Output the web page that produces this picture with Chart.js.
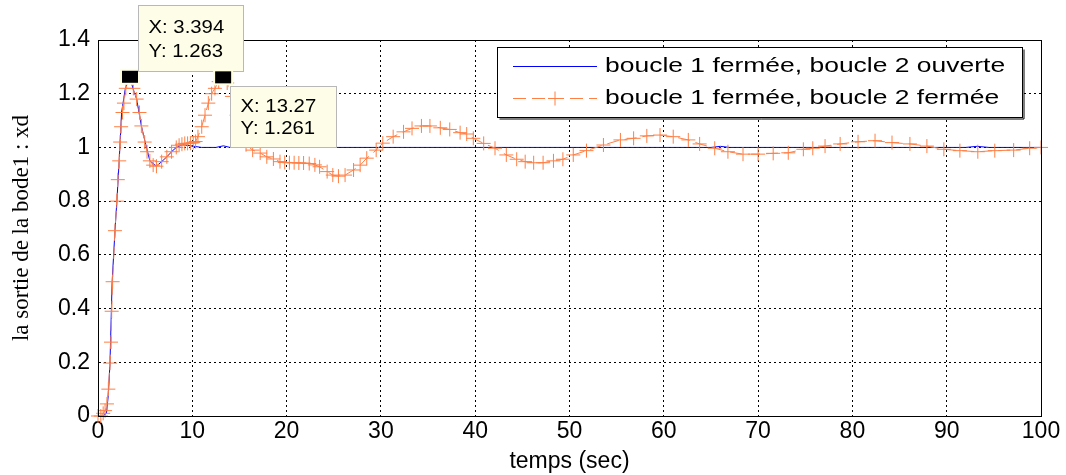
<!DOCTYPE html>
<html>
<head>
<meta charset="utf-8">
<script src="https://cdn.jsdelivr.net/npm/chart.js@4"></script>
<style>
  html, body { margin: 0; padding: 0; background: #fff; }
  #wrap { width: 1066px; height: 475px; }
</style>
</head>
<body>
<div id="wrap"><canvas id="chart" width="1066" height="475"></canvas></div>
<script>
// boucle 1 fermée, boucle 2 ouverte (bleu)
const tOpen = [0, 0.5, 0.9, 1.1, 1.27, 1.5, 1.8, 2.0, 2.25, 2.5, 2.9, 3.394, 3.7, 4.1, 4.6, 5.0, 5.5, 6.2, 6.75, 7.3, 7.8, 8.3, 9.0, 10.0, 11.0, 12.5, 13.3, 14.0, 65.0, 66.0, 67.0, 92.0, 93.2, 94.5, 100];
const yOpen = [0, 0, 0.01, 0.08, 0.197, 0.5, 0.69, 0.8, 0.95, 1.13, 1.22, 1.263, 1.22, 1.18, 1.08, 1.02, 0.95, 0.93, 0.947, 0.965, 0.984, 1.0, 1.01, 1.005, 1.0, 1.0, 1.006, 1.0, 1.0, 1.004, 1.0, 1.0, 1.004, 1.0, 1.0];

// boucle 1 fermée, boucle 2 fermée (orange)
const tClosed = [0, 0.3, 0.55, 0.75, 0.95, 1.1, 1.27, 1.38, 1.45, 1.55, 1.8, 2.0, 2.1, 2.25, 2.35, 2.45, 2.6, 2.75, 2.95, 3.394,
  3.75, 4.1, 4.4, 4.6, 4.95, 5.2, 5.5, 5.85, 6.2, 6.75, 7.3, 7.8, 8.3, 8.6, 8.9, 9.2, 9.5, 9.8, 10.1, 10.35,
  10.6, 11.0, 11.35, 11.7, 12.05, 12.4, 12.8, 13.27, 13.7, 14.2, 14.7, 15.2, 15.7, 16.4, 17.2, 17.9, 18.6, 19.3, 19.8, 20.3,
  20.8, 21.3, 21.8, 22.4, 23.0, 23.5, 24.3, 24.9, 25.5, 26.2, 27.1, 27.8, 28.5, 29.5, 30.2, 31.3, 32.4, 33.3, 34.3, 35.2,
  36.3, 37.3, 38.4, 39.1, 39.8, 40.9, 42.1, 43.3, 44.4, 45.3, 46.2, 47.2, 48.3, 49.3, 50.4, 51.8, 53.6, 55.4, 56.8, 58.2,
  59.6, 61.0, 62.6, 63.8, 65.4, 66.8, 68.4, 70.0, 71.6, 73.2, 74.8, 75.8, 77.1, 78.7, 80.6, 82.4, 84.2, 86.1, 87.9, 89.7,
  91.4, 93.3, 95.1, 97.1, 98.8, 100];
const yClosed = [0, 0, 0.01, 0.02, 0.045, 0.1, 0.197, 0.275, 0.39, 0.5, 0.69, 0.8, 0.88, 0.95, 1.02, 1.077, 1.13, 1.165, 1.22, 1.263,
  1.22, 1.18, 1.13, 1.08, 1.02, 0.984, 0.95, 0.934, 0.93, 0.947, 0.965, 0.984, 1.0, 1.008, 1.012, 1.015, 1.015, 1.016, 1.018, 1.022,
  1.04, 1.077, 1.12, 1.165, 1.2, 1.22, 1.245, 1.261, 1.24, 1.19, 1.12, 1.05, 1.01, 0.99, 0.979, 0.965, 0.957, 0.947, 0.944, 0.943,
  0.943, 0.942, 0.942, 0.94, 0.935, 0.928, 0.91, 0.897, 0.893, 0.897, 0.916, 0.934, 0.96, 0.99, 1.016, 1.04, 1.058, 1.071, 1.08, 1.08,
  1.073, 1.067, 1.055, 1.05, 1.034, 1.015, 0.997, 0.972, 0.956, 0.947, 0.943, 0.943, 0.95, 0.956, 0.972, 0.988, 1.009, 1.028, 1.034, 1.043,
  1.046, 1.04, 1.028, 1.013, 0.997, 0.984, 0.975, 0.975, 0.978, 0.98, 0.993, 0.997, 1.005, 1.013, 1.021, 1.025, 1.018, 1.013, 1.005, 0.993,
  0.988, 0.984, 0.988, 0.99, 0.997, 1.0];

const seriesNames = ["boucle 1 fermée, boucle 2 ouverte", "boucle 1 fermée, boucle 2 fermée"];
const dataTips = [[3.394, 1.263], [13.27, 1.261]];

const BLUE = "#0000ff";
const ORANGE = "#ff7f45";

function toPoints(xs, ys) {
  return xs.map((x, i) => ({ x: x, y: ys[i] }));
}

// texte étiré horizontalement (comme la capture)
function stretchText(ctx, txt, x, y, sx) {
  ctx.save();
  ctx.translate(x, y);
  ctx.scale(sx, 1);
  ctx.fillText(txt, 0, 0);
  ctx.restore();
}

const boxPlugin = {
  id: "boxPlugin",
  afterDatasetsDraw(chart) {
    const ctx = chart.ctx;
    const a = chart.chartArea;
    ctx.save();
    ctx.strokeStyle = "#000";
    ctx.lineWidth = 1;
    ctx.setLineDash([]);
    ctx.strokeRect(a.left + 0.5, a.top + 0.5, a.right - a.left, a.bottom - a.top);
    ctx.restore();
  },
};

const tipPlugin = {
  id: "tipPlugin",
  afterDraw(chart) {
    const ctx = chart.ctx;
    const xs = chart.scales.x;
    const ys = chart.scales.y;
    const boxes = [
      { dx: 8, dy: -72, w: 105, h: 66 },
      { dx: 7, dy: 9, w: 106, h: 61 },
    ];
    ctx.save();
    dataTips.forEach((p, i) => {
      const px = xs.getPixelForValue(p[0]);
      const py = ys.getPixelForValue(p[1]);
      // marqueur
      ctx.fillStyle = "#ffffe0";
      ctx.fillRect(px - 10, py - 8, 20, 16);
      ctx.fillStyle = "#000";
      ctx.fillRect(px - 8, py - 6, 16, 12);
      // boite
      const b = boxes[i];
      const bx = Math.round(px + b.dx) + 0.5;
      const by = Math.round(py + b.dy) + 0.5;
      ctx.fillStyle = "#fdfde8";
      ctx.fillRect(bx, by, b.w, b.h);
      ctx.strokeStyle = "#b8b8b8";
      ctx.lineWidth = 1;
      ctx.strokeRect(bx, by, b.w, b.h);
      ctx.fillStyle = "#000";
      ctx.font = "19px 'Liberation Sans', Arial, sans-serif";
      ctx.textBaseline = "middle";
      ctx.textAlign = "left";
      stretchText(ctx, "X: " + p[0], bx + 10, by + b.h * 0.33, 1.07);
      stretchText(ctx, "Y: " + p[1], bx + 10, by + b.h * 0.7, 1.07);
    });
    ctx.restore();
  },
};

const legendPlugin = {
  id: "legendPlugin",
  afterDraw(chart) {
    const ctx = chart.ctx;
    const L = { x: 497.5, y: 47.5, w: 525, h: 70 };
    ctx.save();
    ctx.fillStyle = "#fff";
    ctx.fillRect(L.x, L.y, L.w, L.h);
    ctx.strokeStyle = "#000";
    ctx.lineWidth = 1;
    ctx.strokeRect(L.x, L.y, L.w, L.h);
    ctx.beginPath();
    ctx.moveTo(L.x + L.w + 1.5, L.y + 2);
    ctx.lineTo(L.x + L.w + 1.5, L.y + L.h + 1.5);
    ctx.lineTo(L.x + 2, L.y + L.h + 1.5);
    ctx.stroke();

    const rows = [L.y + 19, L.y + 51];
    // bleu
    ctx.strokeStyle = BLUE;
    ctx.beginPath();
    ctx.moveTo(513, rows[0]);
    ctx.lineTo(597, rows[0]);
    ctx.stroke();
    // orange
    ctx.strokeStyle = ORANGE;
    ctx.setLineDash([13, 6]);
    ctx.beginPath();
    ctx.moveTo(513, rows[1]);
    ctx.lineTo(597, rows[1]);
    ctx.stroke();
    ctx.setLineDash([]);
    ctx.beginPath();
    ctx.moveTo(548, rows[1]);
    ctx.lineTo(562, rows[1]);
    ctx.moveTo(555, rows[1] - 7);
    ctx.lineTo(555, rows[1] + 7);
    ctx.stroke();

    ctx.fillStyle = "#000";
    ctx.font = "21px 'Liberation Sans', Arial, sans-serif";
    ctx.textBaseline = "middle";
    ctx.textAlign = "left";
    stretchText(ctx, seriesNames[0], 605, rows[0], 1.26);
    stretchText(ctx, seriesNames[1], 605, rows[1], 1.26);
    ctx.restore();
  },
};

const ctx = document.getElementById("chart");

const config = {
  type: "line",
  data: {
    datasets: [
      {
        label: seriesNames[1],
        data: toPoints(tClosed, yClosed),
        borderColor: ORANGE,
        backgroundColor: ORANGE,
        borderWidth: 1,
        borderDash: [12, 6],
        pointStyle: "cross",
        pointRadius: 7,
        pointBorderWidth: 1,
        pointBorderColor: ORANGE,
        tension: 0,
        fill: false,
        clip: false,
        order: 0,
      },
      {
        label: seriesNames[0],
        data: toPoints(tOpen, yOpen),
        borderColor: BLUE,
        borderWidth: 1,
        pointRadius: 0,
        tension: 0,
        fill: false,
        order: 1,
      },
    ],
  },
  options: {
    responsive: false,
    animation: false,
    events: [],
    layout: { padding: { left: 0, top: 40, right: 25, bottom: 0 } },
    plugins: {
      legend: { display: false },
      tooltip: { enabled: false },
    },
    scales: {
      x: {
        type: "linear",
        min: 0,
        max: 100,
        afterFit: (s) => { s.height = 59; },
        ticks: {
          stepSize: 10,
          color: "#000",
          padding: 2,
          maxRotation: 0,
          font: { family: "'Liberation Sans', Arial, sans-serif", size: 23 },
        },
        grid: { color: "#000", drawTicks: false, lineWidth: 1 },
        border: { color: "#000", dash: [2, 3] },
        title: {
          display: true,
          text: "temps (sec)",
          color: "#000",
          padding: { top: 0, bottom: 0 },
          font: { family: "'Liberation Sans', Arial, sans-serif", size: 23 },
        },
      },
      y: {
        min: 0,
        max: 1.4,
        afterFit: (s) => { s.width = 98; },
        ticks: {
          stepSize: 0.2,
          color: "#000",
          padding: 8,
          font: { family: "'Liberation Sans', Arial, sans-serif", size: 23 },
          callback: (v) => String(Math.round(v * 10) / 10),
        },
        grid: { color: "#000", drawTicks: false, lineWidth: 1 },
        border: { color: "#000", dash: [2, 3] },
        title: {
          display: true,
          text: "la sortie de la bode1 : xd",
          color: "#000",
          padding: { top: 8, bottom: 0 },
          font: { family: "'Liberation Serif', 'Times New Roman', serif", size: 23 },
        },
      },
    },
  },
  plugins: [boxPlugin, tipPlugin, legendPlugin],
};

const chart = new Chart(ctx, config);
</script>
</body>
</html>
